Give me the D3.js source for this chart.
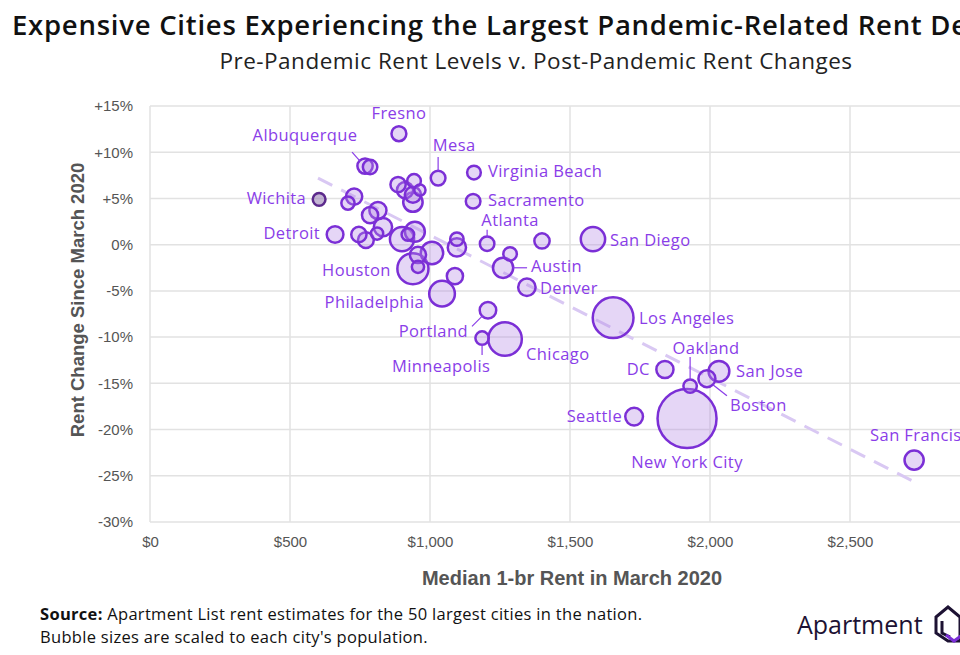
<!DOCTYPE html>
<html>
<head>
<meta charset="utf-8">
<script src="https://cdn.jsdelivr.net/npm/d3@7"></script>
<style>
  html, body { margin: 0; padding: 0; background: #fff; overflow: hidden; }
  svg { display: block; }
</style>
</head>
<body>
<svg id="chart" width="960" height="655"></svg>
<script>
// ---------------- DATA ----------------
const cities = [
  "Fresno","Albuquerque","City A","Mesa","Virginia Beach","Sacramento","Wichita","Detroit",
  "Atlanta","City B","San Diego","Austin","City C","Denver","Los Angeles","Portland",
  "Minneapolis","Chicago","DC","Oakland","Boston","San Jose","Seattle","New York City",
  "San Francisco","Houston","Philadelphia","City D","City E","City F","City G","City H",
  "City I","City J","City K","City L","City M","City N","City O","City P","City Q",
  "City R","City S","City T","City U","City V","City W","City X","City Y","City Z"
];
// Median 1-br rent, March 2020 ($)
const rent = [
  889, 768, 786, 1029, 1157, 1154, 604, 661,
  1204, 1400, 1582, 1261, 1286, 1346, 1654, 1207,
  1186, 1268, 1839, 1929, 1989, 2032, 1729, 1918,
  2729, 939, 1043, 707, 729, 746, 771, 786,
  814, 811, 832, 900, 921, 946, 886, 943, 911,
  964, 939, 939, 1096, 1096, 957, 957, 1007, 1089
];
// Rent change since March 2020 (%)
const change = [
  12.0, 8.5, 8.4, 7.2, 7.8, 4.7, 4.9, 1.1,
  0.1, 0.4, 0.6, -2.5, -1.0, -4.6, -7.9, -7.1,
  -10.1, -10.2, -13.5, -15.3, -14.5, -13.7, -18.6, -18.8,
  -23.3, -2.6, -5.3, 4.5, 5.2, 1.1, 0.5, 3.2,
  3.7, 1.2, 1.9, 0.6, 1.1, 1.4, 6.5, 6.9, 5.9,
  5.9, 5.4, 4.6, 0.6, -0.3, -1.1, -2.4, -0.9, -3.4
];
// Population (thousands)
const population = [
  531, 560, 500, 518, 450, 513, 389, 670,
  506, 560, 1420, 978, 440, 727, 3980, 654,
  429, 2700, 706, 433, 692, 1030, 753, 8340,
  882, 2320, 1580, 420, 630, 560, 600, 630,
  700, 360, 800, 1400, 380, 950, 560, 450, 630,
  300, 630, 900, 430, 800, 630, 360, 1200, 630
];
const xTicks = [0, 500, 1000, 1500, 2000, 2500];
const xTickLabels = ["$0","$500","$1,000","$1,500","$2,000","$2,500"];
const yTicks = [15, 10, 5, 0, -5, -10, -15, -20, -25, -30];
const yTickLabels = ["+15%","+10%","+5%","0%","-5%","-10%","-15%","-20%","-25%","-30%"];
// trend line endpoints (rent, change)
const trendX = [600, 2732];
const trendY = [7.2, -25.7];

// ---------------- LAYOUT (label placement, px offsets from bubble) ----------------
const labelLayout = {
  "Fresno":        {dx: 0,   dy: -19, anchor: "middle"},
  "Albuquerque":   {dx: -60, dy: -30, anchor: "middle", leader: [-13,-14,-5,-5]},
  "Mesa":          {dx: 16,  dy: -32, anchor: "middle", leader: [0,-21,0,-7]},
  "Virginia Beach":{dx: 14,  dy: 0,   anchor: "start"},
  "Sacramento":    {dx: 15,  dy: 0,   anchor: "start"},
  "Wichita":       {dx: -13, dy: 0,   anchor: "end"},
  "Detroit":       {dx: -15, dy: 0,   anchor: "end"},
  "Atlanta":       {dx: 23,  dy: -22, anchor: "middle", leader: [0,-14,0,-6]},
  "San Diego":     {dx: 17,  dy: 2,   anchor: "start"},
  "Austin":        {dx: 28,  dy: 0,   anchor: "start", leader: [10,0,24,0]},
  "Denver":        {dx: 13,  dy: 2,   anchor: "start"},
  "Los Angeles":   {dx: 26,  dy: 2,   anchor: "start"},
  "Portland":      {dx: -20, dy: 22,  anchor: "end", leader: [-16,16,-5,5]},
  "Minneapolis":   {dx: -41, dy: 30,  anchor: "middle", leader: [0,6,0,17]},
  "Chicago":       {dx: 21,  dy: 17,  anchor: "start"},
  "Houston":       {dx: -22, dy: 3,   anchor: "end"},
  "Philadelphia":  {dx: -18, dy: 10,  anchor: "end"},
  "Oakland":       {dx: 16,  dy: -37, anchor: "middle", leader: [0,-29,0,-6]},
  "DC":            {dx: -15, dy: 1,   anchor: "end"},
  "San Jose":      {dx: 17,  dy: 1,   anchor: "start"},
  "Boston":        {dx: 23,  dy: 28,  anchor: "start", leader: [6,6,20,17]},
  "Seattle":       {dx: -12, dy: 1,   anchor: "end"},
  "New York City": {dx: 0,   dy: 45,  anchor: "middle"},
  "San Francisco": {dx: -44, dy: -23, anchor: "start"}
};

// ---------------- DRAW ----------------
const svg = d3.select("#chart");
const brandFont = "'Open Sans', Lato, sans-serif";
const axisFont = "'Liberation Sans', Arial, sans-serif";
const purple = "#7b2fd6";
const labelPurple = "#8a3de8";

const x = d3.scaleLinear().domain([0, 3000]).range([150, 990]);
const y = d3.scaleLinear().domain([-30, 15]).range([522, 106]);
const r = d3.scaleSqrt().domain([0, 8340]).range([0, 29.5]);

const data = cities.map((c, i) => ({city: c, rent: rent[i], change: change[i], pop: population[i]}));

// Title
svg.append("text").attr("x", 12).attr("y", 35)
  .attr("font-family", brandFont).attr("font-size", 27.5).attr("font-weight", 600)
  .attr("letter-spacing", 0.75).attr("fill", "#111")
  .text("Expensive Cities Experiencing the Largest Pandemic-Related Rent Declines");
svg.append("text").attr("x", 536).attr("y", 69).attr("text-anchor", "middle")
  .attr("font-family", brandFont).attr("font-size", 22.5).attr("letter-spacing", 0.5)
  .attr("fill", "#222")
  .text("Pre-Pandemic Rent Levels v. Post-Pandemic Rent Changes");

// Grid
const grid = svg.append("g");
grid.selectAll("line.gx").data(d3.range(0, 3001, 500)).join("line")
  .attr("x1", d => x(d)).attr("x2", d => x(d))
  .attr("y1", y(15)).attr("y2", y(-30))
  .attr("stroke", "#e2e2e2").attr("stroke-width", 1.5);
grid.selectAll("line.gy").data(yTicks).join("line")
  .attr("x1", x(0)).attr("x2", 990)
  .attr("y1", d => y(d)).attr("y2", d => y(d))
  .attr("stroke", "#e2e2e2").attr("stroke-width", 1.5);

// Axes (tick labels only)
const xAxis = d3.axisBottom(x).tickValues(xTicks)
  .tickFormat((d, i) => xTickLabels[i]).tickSize(0).tickPadding(14);
const gx = svg.append("g").attr("transform", `translate(0,${y(-30)})`).call(xAxis);
gx.select(".domain").remove();
gx.selectAll("text").attr("font-family", axisFont).attr("font-size", 15).attr("fill", "#555");

const yAxis = d3.axisLeft(y).tickValues(yTicks)
  .tickFormat((d, i) => yTickLabels[i]).tickSize(0).tickPadding(17);
const gy = svg.append("g").attr("transform", `translate(${x(0)},0)`).call(yAxis);
gy.select(".domain").remove();
gy.selectAll("text").attr("font-family", axisFont).attr("font-size", 15).attr("fill", "#555");

// Axis titles
svg.append("text").attr("x", 572).attr("y", 585).attr("text-anchor", "middle")
  .attr("font-family", axisFont).attr("font-size", 20).attr("font-weight", "bold")
  .attr("fill", "#555").text("Median 1-br Rent in March 2020");
svg.append("text").attr("transform", "translate(84,300) rotate(-90)")
  .attr("text-anchor", "middle")
  .attr("font-family", axisFont).attr("font-size", 18.5).attr("font-weight", "bold")
  .attr("fill", "#555").text("Rent Change Since March 2020");

// Trend line
svg.append("line")
  .attr("x1", x(trendX[0])).attr("y1", y(trendY[0]))
  .attr("x2", x(trendX[1])).attr("y2", y(trendY[1]))
  .attr("stroke", "#d9c8f3").attr("stroke-width", 3)
  .attr("stroke-dasharray", "16,10");

// Bubbles (big ones first)
const sorted = data.slice().sort((a, b) => b.pop - a.pop);
svg.append("g").selectAll("circle").data(sorted).join("circle")
  .attr("cx", d => x(d.rent)).attr("cy", d => y(d.change))
  .attr("r", d => r(d.pop))
  .attr("fill", d => d.city === "Wichita" ? "#9c86b8" : "#b48ae6")
  .attr("fill-opacity", d => d.city === "Wichita" ? 0.6 : 0.35)
  .attr("stroke", d => d.city === "Wichita" ? "#5c2a8c" : purple)
  .attr("stroke-width", 2.5);

// Labels
const lab = svg.append("g");
data.forEach(d => {
  const L = labelLayout[d.city];
  if (!L) return;
  const cx = x(d.rent), cy = y(d.change);
  if (L.leader) {
    lab.append("line")
      .attr("x1", cx + L.leader[0]).attr("y1", cy + L.leader[1])
      .attr("x2", cx + L.leader[2]).attr("y2", cy + L.leader[3])
      .attr("stroke", labelPurple).attr("stroke-width", 1.2);
  }
  lab.append("text")
    .attr("x", cx + L.dx).attr("y", cy + L.dy)
    .attr("text-anchor", L.anchor).attr("dominant-baseline", "middle")
    .attr("font-family", brandFont).attr("font-size", 16.5).attr("letter-spacing", 0.4)
    .attr("fill", labelPurple).text(d.city);
});

// Source
const src = svg.append("text").attr("x", 40).attr("y", 620)
  .attr("font-family", brandFont).attr("font-size", 16.5).attr("letter-spacing", 0.3)
  .attr("fill", "#111");
src.append("tspan").attr("font-weight", "bold").text("Source:");
src.append("tspan").text(" Apartment List rent estimates for the 50 largest cities in the nation.");
svg.append("text").attr("x", 40).attr("y", 643)
  .attr("font-family", brandFont).attr("font-size", 16.5).attr("letter-spacing", 0.3)
  .attr("fill", "#111")
  .text("Bubble sizes are scaled to each city's population.");

// Logo
svg.append("text").attr("x", 797).attr("y", 634)
  .attr("font-family", brandFont).attr("font-size", 25).attr("fill", "#1d1233")
  .text("Apartment");
const logo = svg.append("g").attr("transform", "translate(936,605)");
logo.append("path").attr("d", "M0,12 L12,2 L24,12 L24,36 L12,36 L0,28 Z")
  .attr("fill", "none").attr("stroke", "#1d1233").attr("stroke-width", 3);
logo.append("path").attr("d", "M6,16 L6,28 L14,32")
  .attr("fill", "none").attr("stroke", "#1d1233").attr("stroke-width", 3);
logo.append("path").attr("d", "M10,30 L18,36 L26,30")
  .attr("fill", "none").attr("stroke", "#7b2fd6").attr("stroke-width", 3);
</script>
</body>
</html>
